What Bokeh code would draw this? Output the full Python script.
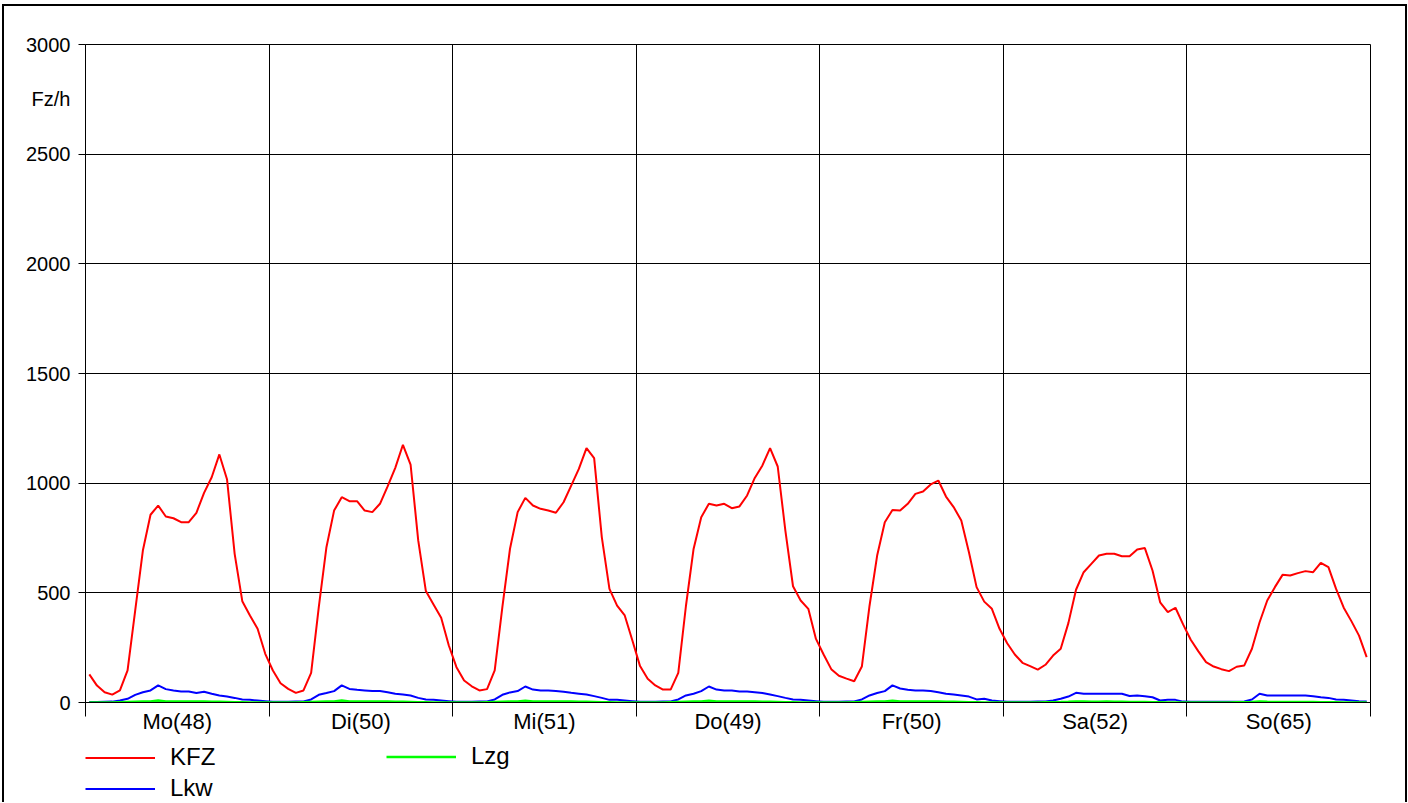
from bokeh.plotting import figure
from bokeh.models import Range1d, FixedTicker, Legend, LegendItem
from bokeh.layouts import column
from bokeh.embed import file_html
from bokeh.resources import INLINE

days = ["Mo(48)", "Di(50)", "Mi(51)", "Do(49)", "Fr(50)", "Sa(52)", "So(65)"]
y_ticks = [0, 500, 1000, 1500, 2000, 2500, 3000]
unit_label = "Fz/h"
unit_pos = 2750

kfz_mo = [128, 77, 47, 36, 55, 146, 420, 693, 856, 898, 848, 840, 822, 822, 865, 956, 1027, 1131, 1018, 678, 462, 397, 336, 222]
kfz_di = [146, 88, 62, 44, 55, 135, 435, 708, 875, 936, 918, 918, 875, 868, 906, 985, 1070, 1175, 1085, 739, 508, 447, 386, 260]
kfz_mi = [161, 100, 74, 55, 61, 146, 435, 701, 868, 933, 898, 883, 875, 865, 913, 989, 1065, 1160, 1114, 754, 518, 442, 397, 283]
kfz_do = [166, 108, 78, 59, 59, 135, 440, 700, 845, 906, 898, 906, 886, 894, 944, 1024, 1081, 1160, 1076, 784, 530, 465, 427, 290]
kfz_fr = [219, 152, 122, 109, 97, 164, 440, 670, 822, 878, 875, 906, 951, 962, 994, 1012, 939, 891, 830, 685, 526, 460, 427, 336]
kfz_sa = [270, 219, 181, 166, 150, 172, 214, 245, 362, 514, 594, 632, 670, 678, 678, 667, 667, 698, 704, 602, 457, 412, 432, 356]
kfz_so = [286, 233, 184, 164, 152, 143, 163, 169, 245, 366, 465, 526, 582, 579, 590, 599, 594, 637, 617, 518, 432, 371, 305, 207]

lkw_mo = [2, 2, 3, 4, 9, 17, 35, 47, 55, 78, 61, 55, 50, 50, 43, 49, 40, 32, 27, 21, 14, 12, 9, 6]
lkw_di = [3, 3, 3, 4, 5, 14, 35, 43, 52, 78, 62, 58, 55, 52, 52, 47, 40, 36, 32, 21, 14, 12, 9, 6]
lkw_mi = [3, 3, 3, 4, 5, 14, 35, 46, 52, 73, 59, 55, 55, 52, 49, 44, 40, 36, 29, 21, 12, 12, 9, 6]
lkw_do = [3, 3, 3, 4, 5, 14, 32, 40, 52, 73, 59, 55, 55, 50, 50, 47, 43, 36, 29, 21, 14, 12, 9, 6]
lkw_fr = [3, 3, 3, 4, 5, 14, 32, 43, 52, 78, 64, 58, 55, 55, 52, 47, 40, 36, 32, 27, 14, 17, 9, 6]
lkw_sa = [3, 3, 3, 3, 4, 5, 9, 17, 27, 44, 40, 40, 40, 40, 40, 40, 30, 32, 29, 24, 9, 12, 12, 4]
lkw_so = [3, 3, 3, 3, 3, 3, 3, 5, 14, 40, 32, 32, 32, 32, 32, 32, 29, 24, 21, 14, 12, 9, 6, 4]

lzg_mo = [0, 0, 0, 0, 1, 2, 3, 4, 5, 9, 5, 4, 4, 4, 5, 4, 3, 3, 2, 1, 1, 0, 0, 0]
lzg_di = [0, 0, 0, 0, 1, 2, 3, 4, 5, 9, 5, 4, 4, 4, 5, 4, 3, 3, 2, 1, 1, 0, 0, 0]
lzg_mi = [0, 0, 0, 0, 1, 2, 3, 4, 5, 8, 5, 4, 4, 4, 5, 4, 3, 3, 2, 1, 1, 0, 0, 0]
lzg_do = [0, 0, 0, 0, 1, 2, 3, 4, 5, 8, 5, 4, 4, 4, 5, 4, 3, 3, 2, 1, 1, 0, 0, 0]
lzg_fr = [0, 0, 0, 0, 1, 2, 3, 4, 5, 8, 5, 4, 4, 4, 5, 4, 3, 3, 2, 1, 1, 0, 0, 0]
lzg_sa = [0, 0, 0, 0, 0, 1, 1, 2, 3, 5, 4, 3, 3, 4, 3, 3, 2, 2, 2, 1, 1, 0, 0, 0]
lzg_so = [0, 0, 0, 0, 0, 0, 1, 1, 2, 5, 3, 2, 2, 2, 2, 2, 2, 1, 1, 1, 0, 0, 0, 0]

kfz = kfz_mo + kfz_di + kfz_mi + kfz_do + kfz_fr + kfz_sa + kfz_so
lkw = lkw_mo + lkw_di + lkw_mi + lkw_do + lkw_fr + lkw_sa + lkw_so
lzg = lzg_mo + lzg_di + lzg_mi + lzg_do + lzg_fr + lzg_sa + lzg_so
hours = [i + 0.5 for i in range(len(kfz))]

FONT = "Liberation Sans"
RED, BLUE, GREEN = "#FF0000", "#0000FF", "#00FF00"

p = figure(width=1401, height=730, output_backend="svg", toolbar_location=None,
           x_range=Range1d(0, 168), y_range=Range1d(0, 3000),
           min_border_left=81, min_border_right=35, min_border_top=38, min_border_bottom=34)
p.background_fill_color = "white"
p.border_fill_color = "white"
p.outline_line_color = "black"
p.outline_line_width = 1

p.line(hours, kfz, line_color=RED, line_width=2)
p.line(hours, lkw, line_color=BLUE, line_width=2)
p.line(hours, lzg, line_color=GREEN, line_width=2.5)

boundaries = [24 * d for d in range(8)]
centers = [24 * d + 12 for d in range(7)]

xa = p.xaxis[0]
xa.ticker = FixedTicker(ticks=centers, minor_ticks=boundaries)
xa.major_label_overrides = {c: days[i] for i, c in enumerate(centers)}
xa.major_tick_out = 0
xa.major_tick_in = 0
xa.minor_tick_out = 14
xa.minor_tick_in = 0
xa.minor_tick_line_color = "black"
xa.axis_line_color = "black"
xa.major_label_standoff = -8
xa.major_label_text_font = FONT
xa.major_label_text_font_size = "22px"
xa.major_label_text_color = "black"

ya = p.yaxis[0]
ya.ticker = FixedTicker(ticks=y_ticks + [unit_pos], minor_ticks=y_ticks)
ya.major_label_overrides = {unit_pos: unit_label}
ya.major_tick_out = 0
ya.major_tick_in = 0
ya.minor_tick_out = 7
ya.minor_tick_in = 0
ya.minor_tick_line_color = "black"
ya.axis_line_color = "black"
ya.major_label_standoff = 8
ya.major_label_text_font = FONT
ya.major_label_text_font_size = "20px"
ya.major_label_text_color = "black"

p.xgrid.ticker = FixedTicker(ticks=boundaries[1:-1])
p.xgrid.grid_line_color = "black"
p.xgrid.grid_line_width = 1
p.ygrid.ticker = FixedTicker(ticks=y_ticks[1:])
p.ygrid.grid_line_color = "black"
p.ygrid.grid_line_width = 1

# legend strip below the chart (its sample lines lie outside its view range)
p2 = figure(width=1401, height=66, output_backend="svg", toolbar_location=None,
            x_range=Range1d(0, 168), y_range=Range1d(-2000, -1000),
            x_axis_location=None, y_axis_location=None,
            min_border=0, min_border_left=0, min_border_right=0,
            min_border_top=0, min_border_bottom=0)
p2.grid.visible = False
p2.outline_line_color = None
p2.background_fill_color = "white"
p2.border_fill_color = "white"
l_kfz = p2.line(hours, kfz, line_color=RED, line_width=2)
l_lkw = p2.line(hours, lkw, line_color=BLUE, line_width=2)
l_lzg = p2.line(hours, lzg, line_color=GREEN, line_width=2.5)

def make_legend(items, loc):
    return Legend(items=items, location=loc, orientation="vertical",
                  glyph_width=70, glyph_height=27, label_height=27,
                  spacing=3, label_standoff=15, padding=0, margin=0,
                  label_text_font=FONT, label_text_font_size="24px",
                  label_text_color="black",
                  border_line_alpha=0, background_fill_alpha=0)

p2.add_layout(make_legend([LegendItem(label="KFZ", renderers=[l_kfz]),
                           LegendItem(label="Lkw", renderers=[l_lkw])], (0, 0)), "center")
p2.add_layout(make_legend([LegendItem(label="Lzg", renderers=[l_lzg])], (301, 32)), "center")

layout = column(p, p2, spacing=0,
                styles={"margin-left": "2px", "margin-top": "4px",
                        "border-left": "2px solid black", "border-top": "2px solid black",
                        "border-right": "2px solid black"})

open("out.html", "w").write(file_html(layout, INLINE))
